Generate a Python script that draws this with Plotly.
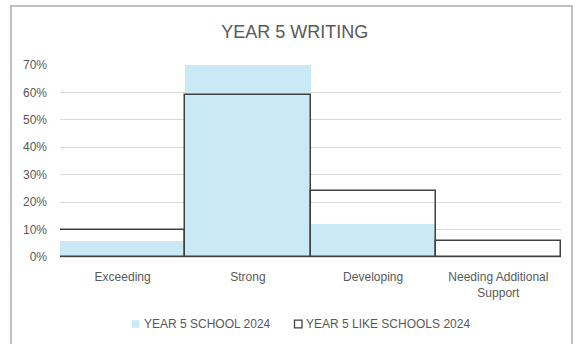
import plotly.graph_objects as go

categories = ["Exceeding", "Strong", "Developing", "Needing Additional<br>Support"]
school_2024 = [0.06, 0.72, 0.12, 0.0]
like_schools_2024 = [0.10, 0.59, 0.24, 0.06]
series_names = ["YEAR 5 SCHOOL 2024", "YEAR 5 LIKE SCHOOLS 2024"]
y_ticks = [0, 0.1, 0.2, 0.3, 0.4, 0.5, 0.6, 0.7]

FONT = "Liberation Sans, Arial, sans-serif"
GRAY = "#595959"
BLUE = "#c9e9f5"
DARK = "#404040"

fig = go.Figure()
fig.add_trace(go.Bar(
    x=categories, y=school_2024, name=series_names[0],
    marker=dict(color=BLUE, line=dict(width=0)), showlegend=False,
))
fig.add_trace(go.Bar(
    x=categories, y=like_schools_2024, name=series_names[1],
    marker=dict(color="rgba(0,0,0,0)", line=dict(color=DARK, width=1.5)),
    showlegend=False,
))

L, R, T, B = 60, 17, 65, 87
W, H = 578, 344
pw, ph = W - L - R, H - T - B

def px_x(x):
    return (x - L) / pw

def px_y(y):
    return (H - B - y) / ph

# custom legend (swatch + label) to mimic the compact Excel legend
legend_y = 324
shapes = [
    dict(type="rect", xref="paper", yref="paper",
         x0=px_x(11), x1=px_x(572), y0=px_y(350), y1=px_y(6),
         line=dict(color="#c0c0c0", width=2), layer="below"),
    dict(type="rect", xref="paper", yref="paper",
         x0=px_x(132), x1=px_x(139.5), y0=px_y(legend_y + 3.8), y1=px_y(legend_y - 3.8),
         fillcolor=BLUE, line=dict(width=0)),
    dict(type="rect", xref="paper", yref="paper",
         x0=px_x(294.5), x1=px_x(302), y0=px_y(legend_y + 3.8), y1=px_y(legend_y - 3.8),
         fillcolor="white", line=dict(color=DARK, width=1.3)),
]
annotations = [
    dict(text=series_names[0], xref="paper", yref="paper", x=px_x(142), y=px_y(legend_y),
         xanchor="left", yanchor="middle", showarrow=False,
         font=dict(family=FONT, size=12, color=GRAY)),
    dict(text=series_names[1], xref="paper", yref="paper", x=px_x(304), y=px_y(legend_y),
         xanchor="left", yanchor="middle", showarrow=False,
         font=dict(family=FONT, size=12, color=GRAY)),
]

fig.update_layout(
    width=W, height=H,
    margin=dict(l=L, r=R, t=T, b=B, pad=0),
    paper_bgcolor="white", plot_bgcolor="white",
    barmode="overlay", bargap=0,
    font=dict(family=FONT, size=12, color=GRAY),
    title=dict(text="YEAR 5 WRITING", x=0.51, xanchor="center",
               y=1 - 32 / H, yanchor="middle",
               font=dict(family=FONT, size=18, color=GRAY)),
    showlegend=False,
    xaxis=dict(showgrid=False, showline=False, ticks="", automargin=False,
               ticklabelstandoff=11,
               tickfont=dict(family=FONT, size=12, color=GRAY)),
    yaxis=dict(range=[0, 0.7], tickvals=y_ticks, tickformat=".0%",
               showgrid=True, gridcolor="#d9d9d9", gridwidth=1,
               zeroline=True, zerolinecolor="#d9d9d9", zerolinewidth=1,
               showline=False, ticks="", ticklabelstandoff=12, automargin=False,
               tickfont=dict(family=FONT, size=12, color=GRAY)),
    shapes=shapes,
    annotations=annotations,
)

fig.write_html("out.html")
